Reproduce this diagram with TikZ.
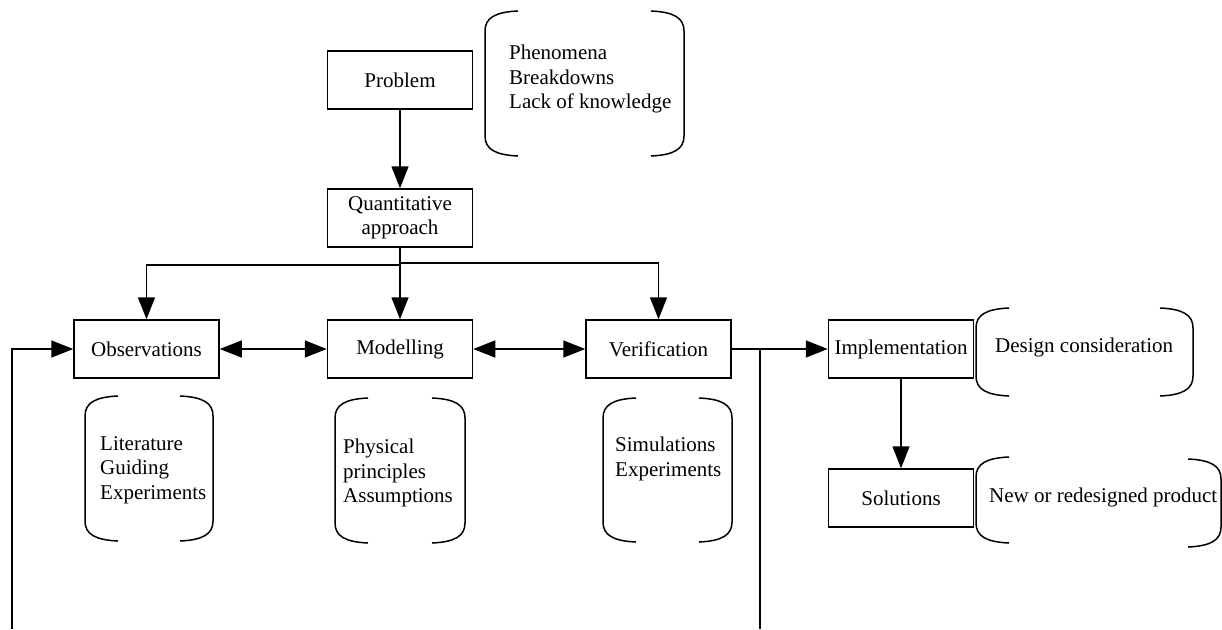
\documentclass[tikz,border=0pt]{standalone}
\usepackage{fontspec}
\setmainfont{Liberation Serif}
\usetikzlibrary{arrows.meta}
\newcommand\brleft[3]{%
  \draw[brk] (#1+33,#2) .. controls (#1+10,#2+1) and (#1,#2+7) .. (#1,#2+20)
    -- (#1,#3-20) .. controls (#1,#3-7) and (#1+10,#3-1) .. (#1+33,#3);}
\newcommand\brright[3]{%
  \draw[brk] (#1-33,#2) .. controls (#1-10,#2+1) and (#1,#2+7) .. (#1,#2+20)
    -- (#1,#3-20) .. controls (#1,#3-7) and (#1-10,#3-1) .. (#1-33,#3);}
\begin{document}
\begin{tikzpicture}[x=1pt,y=-1pt,
  every node/.style={font=\fontsize{21}{24.5}\selectfont},
  box/.style={draw,line width=1.5pt,minimum width=145pt,minimum height=58pt,inner sep=0pt,align=center},
  note/.style={inner sep=0pt,align=left,anchor=west},
  brk/.style={line width=1.5pt},
  arr/.style={line width=1.5pt,-{Triangle[length=22pt,width=17pt]}},
  darr/.style={line width=1.5pt,{Triangle[length=22pt,width=17pt]}-{Triangle[length=22pt,width=17pt]}},
  ln/.style={line width=1.5pt}]
\useasboundingbox (0,0) rectangle (1222,629);

\node[box] (prob) at (400,80) {Problem};
\node[box] (quant) at (400,218) {Quantitative\\approach};
\node[box] (obs) at (146.5,349) {Observations};
\node[box] (mod) at (400,349) {Modelling};
\node[box] (ver) at (658.5,349) {Verification};
\node[box] (imp) at (901,349) {Implementation};
\node[box] (sol) at (901,498) {Solutions};

% brackets
\brleft{485}{11}{156}\brright{684}{11}{156}
\node[note] (t1) at (509,79) {Phenomena\\Breakdowns\\Lack of knowledge};
\brleft{85}{396}{541}\brright{213}{396}{541}
\node[note] (t2) at (100,470) {Literature\\Guiding\\Experiments};
\brleft{335}{398}{543}\brright{465}{398}{543}
\node[note] (t3) at (343,473) {Physical\\principles\\Assumptions};
\brleft{603}{398}{542}\brright{732}{398}{542}
\node[note] (t4) at (615,459) {Simulations\\Experiments};
\brleft{976}{308}{396}\brright{1193}{308}{396}
\node[note] (t5) at (995,347) {Design consideration};
\brleft{976}{457}{543}\brright{1221}{459}{547}
\node[note] (t6) at (989,497) {New or redesigned product};

% connectors
\coordinate (j1) at (400,265);
\coordinate (j2) at (400,263);
\coordinate (fb1) at (760,349);
\coordinate (fb2) at (760,629);
\coordinate (fb3) at (12,629);

\draw[arr] (prob) -- (quant);
\draw[arr] (quant.south) -- (j1) -| (obs.north);
\draw[arr] (quant.south) -- (mod.north);
\draw[arr] (j2) -| (ver.north);
\draw[darr] (obs) -- (mod);
\draw[darr] (mod) -- (ver);
\draw[arr] (ver) -- (imp);
\draw[arr] (imp) -- (sol);
\draw[ln] (fb1) -- (fb2);
\draw[arr] (fb3) |- (obs.west);
\end{tikzpicture}
\end{document}
